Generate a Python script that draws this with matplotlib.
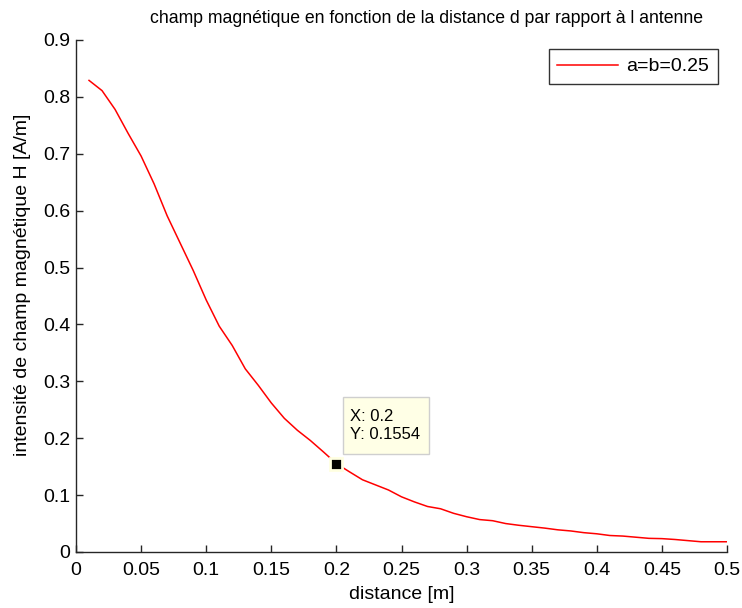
import numpy as np
import matplotlib
matplotlib.use("Agg")
import matplotlib.pyplot as plt
from matplotlib.patches import Rectangle

plt.rcParams['font.family'] = ['Liberation Sans', 'DejaVu Sans']

# Data
distance = [0.01, 0.02, 0.03, 0.04, 0.05, 0.06, 0.07, 0.08, 0.09, 0.10,
            0.11, 0.12, 0.13, 0.14, 0.15, 0.16, 0.17, 0.18, 0.19, 0.20,
            0.21, 0.22, 0.23, 0.24, 0.25, 0.26, 0.27, 0.28, 0.29, 0.30,
            0.31, 0.32, 0.33, 0.34, 0.35, 0.36, 0.37, 0.38, 0.39, 0.40,
            0.41, 0.42, 0.43, 0.44, 0.45, 0.46, 0.47, 0.48, 0.49, 0.50]
H = [0.829, 0.811, 0.778, 0.736, 0.696, 0.647, 0.591, 0.543, 0.495, 0.443,
     0.397, 0.363, 0.322, 0.293, 0.262, 0.235, 0.214, 0.196, 0.176, 0.1554,
     0.141, 0.127, 0.118, 0.109, 0.097, 0.088, 0.080, 0.076, 0.068, 0.062,
     0.057, 0.055, 0.050, 0.047, 0.0445, 0.042, 0.039, 0.037, 0.034, 0.032,
     0.029, 0.028, 0.026, 0.024, 0.0235, 0.022, 0.020, 0.018, 0.018, 0.018]
tip_x = 0.2
tip_y = 0.1554
xticks = [0, 0.05, 0.1, 0.15, 0.2, 0.25, 0.3, 0.35, 0.4, 0.45, 0.5]
xticklabels = ['0', '0.05', '0.1', '0.15', '0.2', '0.25', '0.3', '0.35', '0.4', '0.45', '0.5']
yticks = [0, 0.1, 0.2, 0.3, 0.4, 0.5, 0.6, 0.7, 0.8, 0.9]
yticklabels = ['0', '0.1', '0.2', '0.3', '0.4', '0.5', '0.6', '0.7', '0.8', '0.9']

fig = plt.figure(figsize=(7.42, 6.08), dpi=100)
ax = fig.add_axes([76/742, 56/608, 651/742, 512/608])

ax.plot(distance, H, color='red', lw=1.1, label='a=b=0.25')
ax.set_xlim(0, 0.5)
ax.set_ylim(0, 0.9)
ax.set_xticks(xticks)
ax.set_xticklabels(xticklabels)
ax.set_yticks(yticks)
ax.set_yticklabels(yticklabels)

for s in ['top', 'right']:
    ax.spines[s].set_visible(False)
for s in ['left', 'bottom']:
    ax.spines[s].set_color('#262626')
    ax.spines[s].set_linewidth(1.0)
ax.tick_params(direction='in', length=5, width=1, color='#262626',
               labelsize=14, labelcolor='black')
ax.tick_params(axis='x', pad=7)
ax.tick_params(axis='y', pad=4)

ax.set_title('champ magnétique en fonction de la distance d par rapport à l antenne',
             fontsize=12.7, pad=12, x=0.538)
ax.set_xlabel('distance [m]', fontsize=14, labelpad=5)
ax.set_ylabel('intensité de champ magnétique H [A/m]', fontsize=14, labelpad=6)
ax.yaxis.set_label_coords(-0.069, 0.521)

# data tip
ax.plot([tip_x], [tip_y], marker='s', markersize=9, markerfacecolor='black',
        markeredgecolor='#ffffe1', markeredgewidth=2, zorder=5)
ax.add_patch(Rectangle((tip_x + 0.0054, tip_y + 0.0168), 0.066, 0.1,
                       facecolor='#ffffe6', edgecolor='#cfcfcf', lw=1, zorder=6))
ax.text(tip_x + 0.0105, tip_y + 0.0668, 'X: %g\nY: %.4f' % (tip_x, tip_y),
        fontsize=12, va='center', ha='left', linespacing=1.3, zorder=7)

leg = ax.legend(loc='upper right', fontsize=14, frameon=True, fancybox=False,
                edgecolor='black', handlelength=3.1, borderpad=0.45,
                handletextpad=0.45, borderaxespad=0.0,
                bbox_to_anchor=(1 - 9/651, 1 - 9/512))
leg.get_frame().set_linewidth(1.0)

fig.savefig('out.png', dpi=100)
